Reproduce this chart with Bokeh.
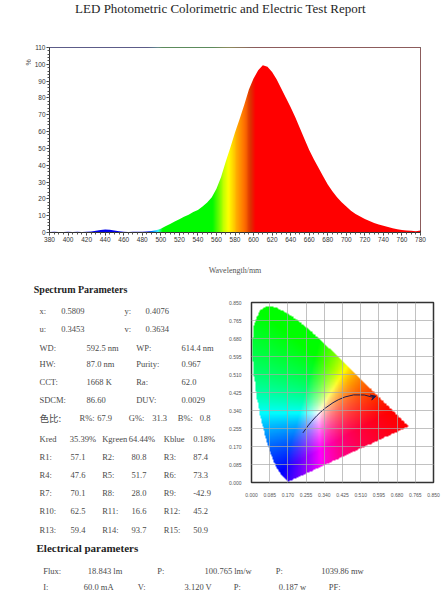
import numpy as np
from bokeh.plotting import figure
from bokeh.layouts import column, row
from bokeh.models import (Range1d, SingleIntervalTicker, FixedTicker, PrintfTickFormatter,
                          Arrow, VeeHead)
from bokeh.core.properties import value
from bokeh.embed import file_html
from bokeh.resources import INLINE

# ---------------- data ----------------
title_text = "LED Photometric Colorimetric and Electric Test Report"
x_label = "Wavelength/mm"
y_label = "%"

wavelength = list(range(380, 781, 5))
intensity = [
    0.3, 0.5, 0.3, 0.3, 0.4, 0.3, 0.5, 0.3, 0.4, 0.6,        # 380-425
    1.0, 1.5, 1.8, 1.6, 1.2, 0.8, 0.4, 0.3, 0.4, 0.4,        # 430-475
    0.5, 0.6, 0.9, 1.3, 2.2, 3.7, 5.0, 6.6, 7.9, 9.4,        # 480-525
    10.6, 12.2, 13.4, 15.5, 17.8, 21.0, 26.0, 33.0, 42.0, 50.5,  # 530-575
    59.5, 67.5, 76.0, 85.0, 91.5, 96.5, 99.5, 98.5, 95.5, 91.0,  # 580-625
    85.5, 80.0, 74.5, 68.5, 62.0, 55.5, 49.0, 43.5, 38.5, 33.5,  # 630-675
    28.5, 24.5, 21.0, 18.0, 15.5, 13.0, 11.0, 9.5, 8.0, 6.8,     # 680-725
    5.6, 4.8, 4.0, 3.2, 2.5, 2.0, 1.5, 1.2, 1.0, 0.8,            # 730-775
    1.2,                                                          # 780
]

# CIE 1931 spectral locus (380-700 nm, 5 nm)
locus_x = [0.1741, 0.1740, 0.1738, 0.1736, 0.1733, 0.1730, 0.1726, 0.1721, 0.1714, 0.1703,
           0.1689, 0.1669, 0.1644, 0.1611, 0.1566, 0.1510, 0.1440, 0.1355, 0.1241, 0.1096,
           0.0913, 0.0687, 0.0454, 0.0235, 0.0082, 0.0039, 0.0139, 0.0389, 0.0743, 0.1142,
           0.1547, 0.1929, 0.2296, 0.2658, 0.3016, 0.3373, 0.3731, 0.4087, 0.4441, 0.4788,
           0.5125, 0.5448, 0.5752, 0.6029, 0.6270, 0.6482, 0.6658, 0.6801, 0.6915, 0.7006,
           0.7079, 0.7140, 0.7190, 0.7230, 0.7260, 0.7283, 0.7300, 0.7311, 0.7320, 0.7327,
           0.7334, 0.7340, 0.7344, 0.7346, 0.7347]
locus_y = [0.0050, 0.0050, 0.0049, 0.0049, 0.0048, 0.0048, 0.0048, 0.0048, 0.0051, 0.0058,
           0.0069, 0.0086, 0.0109, 0.0138, 0.0177, 0.0227, 0.0297, 0.0399, 0.0578, 0.0868,
           0.1327, 0.2007, 0.2950, 0.4127, 0.5384, 0.6548, 0.7502, 0.8120, 0.8338, 0.8262,
           0.8059, 0.7816, 0.7543, 0.7243, 0.6923, 0.6589, 0.6245, 0.5896, 0.5547, 0.5202,
           0.4866, 0.4544, 0.4242, 0.3965, 0.3725, 0.3514, 0.3340, 0.3197, 0.3083, 0.2993,
           0.2920, 0.2859, 0.2809, 0.2770, 0.2740, 0.2717, 0.2700, 0.2689, 0.2680, 0.2673,
           0.2666, 0.2660, 0.2656, 0.2654, 0.2653]

# Planckian locus (inf K ... 1667 K)
planck_x = [0.2399, 0.2565, 0.2637, 0.2807, 0.2952, 0.3064, 0.3221, 0.3451, 0.3805,
            0.4053, 0.4369, 0.4770, 0.5267, 0.5646]
planck_y = [0.2342, 0.2577, 0.2674, 0.2884, 0.3048, 0.3166, 0.3318, 0.3516, 0.3768,
            0.3907, 0.4041, 0.4137, 0.4133, 0.4029]

cie_ticks = [0.000, 0.085, 0.170, 0.255, 0.340, 0.425, 0.510, 0.595, 0.680, 0.765, 0.850]

chroma_names = ["x:", "y:", "u:", "v:"]
chroma_vals = [0.5809, 0.4076, 0.3453, 0.3634]

param_names = ["WD:", "WP:", "HW:", "Purity:", "CCT:", "Ra:", "SDCM:", "DUV:"]
param_vals = ["592.5 nm", "614.4 nm", "87.0 nm", "0.967", "1668 K", "62.0", "86.60", "0.0029"]

ratio_title = "色比:"
ratio_names = ["R%:", "G%:", "B%:"]
ratio_vals = [67.9, 31.3, 0.8]

k_names = ["Kred", "Kgreen", "Kblue"]
k_vals = ["35.39%", "64.44%", "0.18%"]

ri_names = ["R%d:" % i for i in range(1, 16)]
ri_vals = [57.1, 80.8, 87.4, 47.6, 51.7, 73.3, 70.1, 28.0, -42.9, 62.5, 16.6, 45.2, 59.4, 93.7, 50.9]

elec_names_1 = ["Flux:", "P:", "P:"]
elec_vals_1 = ["18.843 lm", "100.765 lm/w", "1039.86 mw"]
elec_names_2 = ["I:", "V:", "P:", "PF:"]
elec_vals_2 = ["60.0 mA", "3.120 V", "0.187 w"]

# ---------------- styles ----------------
SERIF = "Liberation Serif"
SANS = "Liberation Sans"
CJK = "Noto Sans CJK SC"
BODY = "#4a4a4a"
HEAD = "#1e1e1e"

spec_stops = [(380, (0, 0, 235)), (486, (0, 0, 235)), (492, (0, 150, 255)), (497, (70, 255, 255)),
              (502, (0, 250, 0)), (556, (0, 250, 0)), (566, (170, 255, 0)), (573, (255, 255, 0)),
              (581, (255, 180, 0)), (590, (255, 110, 0)), (597, (220, 50, 0)), (602, (255, 0, 0)),
              (780, (255, 0, 0))]


def strip(w, h, y0, y1, top=0, bottom=0):
    """Text canvas whose data coordinates equal page pixels."""
    f = figure(width=w, height=h, x_range=Range1d(0, w), y_range=Range1d(y1, y0),
               x_axis_type=None, y_axis_type=None, output_backend="svg",
               toolbar_location=None, min_border=0)
    f.min_border_top = top
    f.min_border_bottom = bottom
    f.outline_line_color = None
    return f


def txt(f, xs, ys, texts, size=8.5, style="normal", color=BODY, font=SERIF, align="left", angle=0):
    f.text(x=xs, y=ys, text=texts, text_font=value(font), text_font_size="%spx" % size,
           text_font_style=style, text_color=color, text_align=align, text_baseline="middle",
           angle=angle)


# ---------------- title ----------------
tstrip = strip(444, 20, 0, 20)
txt(tstrip, [220], [8], [title_text], size=13, style="normal", color=HEAD, align="center")

# ---------------- spectrum ----------------
spec = figure(width=413, height=260, x_range=Range1d(wavelength[0], wavelength[-1]),
              y_range=Range1d(0, 110), output_backend="svg", toolbar_location=None,
              min_border_left=18, min_border_right=24, min_border_top=27, min_border_bottom=48)
spec.grid.visible = False
spec.outline_line_color = "#333333"
spec.outline_line_width = 1

nm = np.arange(wavelength[0], wavelength[-1]) + 0.5
sx = [s[0] for s in spec_stops]
chan = [np.interp(nm, sx, [s[1][k] for s in spec_stops]) for k in range(3)]
simg = np.zeros((2, len(nm)), dtype=np.uint32)
sv = simg.view(dtype=np.uint8).reshape((2, len(nm), 4))
for k in range(3):
    sv[:, :, k] = chan[k].astype(np.uint8)
sv[:, :, 3] = 255
spec.image_rgba(image=[simg], x=wavelength[0], y=0, dw=wavelength[-1] - wavelength[0], dh=110)
spec.varea(x=wavelength, y1=intensity, y2=[110] * len(wavelength), fill_color="white")

spec.xaxis.ticker = SingleIntervalTicker(interval=20, num_minor_ticks=4)
spec.yaxis.ticker = SingleIntervalTicker(interval=10, num_minor_ticks=5)
for ax in spec.axis:
    ax.major_tick_out = 3
    ax.major_tick_in = 0
    ax.minor_tick_out = 2
    ax.minor_tick_in = 0
    ax.axis_line_color = "#333333"
    ax.major_tick_line_color = "#333333"
    ax.minor_tick_line_color = "#555555"
    ax.major_label_text_font = SANS
    ax.major_label_text_font_size = "6.5px"
    ax.major_label_text_color = "#333333"
    ax.major_label_standoff = 1
spec.xaxis.axis_label = x_label
spec.xaxis.axis_label_text_font = SERIF
spec.xaxis.axis_label_text_font_size = "8px"
spec.xaxis.axis_label_text_font_style = "normal"
spec.xaxis.axis_label_text_color = "#555555"
spec.xaxis.axis_label_standoff = 21

pct = strip(31, 260, 47, 232, top=27, bottom=48)
txt(pct, [27.5], [62], [y_label], size=7, color="#555555", font=SANS, align="center",
    angle=np.pi / 2)

# ---------------- CIE diagram ----------------
cie = figure(width=224, height=260, x_range=Range1d(cie_ticks[0], cie_ticks[-1]),
             y_range=Range1d(cie_ticks[0], cie_ticks[-1]), output_backend="svg",
             toolbar_location=None, min_border_left=31, min_border_right=11,
             min_border_top=22, min_border_bottom=58)
cie.outline_line_color = "#333333"
cie.outline_line_width = 1.5
tk = FixedTicker(ticks=cie_ticks, minor_ticks=[])
for ax in cie.axis:
    ax.ticker = tk
    ax.formatter = PrintfTickFormatter(format="%.3f")
    ax.major_tick_out = 0
    ax.major_tick_in = 0
    ax.minor_tick_out = 0
    ax.minor_tick_in = 0
    ax.axis_line_color = None
    ax.major_label_text_font = SANS
    ax.major_label_text_font_size = "5px"
    ax.major_label_text_color = "#555555"
    ax.major_label_standoff = 10
cie.xaxis.major_label_text_align = "left"
for g in (cie.xgrid[0], cie.ygrid[0]):
    g.ticker = tk
    g.grid_line_color = "#a8a8a8"
    g.grid_line_alpha = 0.7
    g.level = "overlay"

N = 300
span = cie_ticks[-1] - cie_ticks[0]
gx = (np.arange(N) + 0.5) / N * span
GX, GY = np.meshgrid(gx, gx)
vx = np.array(locus_x)
vy = np.array(locus_y)
inside = np.zeros(GX.shape, dtype=bool)
j = len(vx) - 1
for i in range(len(vx)):
    cond = ((vy[i] > GY) != (vy[j] > GY)) & \
           (GX < (vx[j] - vx[i]) * (GY - vy[i]) / (vy[j] - vy[i] + 1e-12) + vx[i])
    inside ^= cond
    j = i
yy = np.maximum(GY, 1e-4)
Xc = GX / yy
Zc = (1 - GX - GY) / yy
r = 3.2406 * Xc - 1.5372 - 0.4986 * Zc
g_ = -0.9689 * Xc + 1.8758 + 0.0415 * Zc
b = 0.0557 * Xc - 0.2040 + 1.0570 * Zc
rgb = np.clip(np.stack([r, g_, b], -1), 0, None)
rgb = rgb / (rgb.max(-1, keepdims=True) + 1e-9)
rgb = rgb ** 0.9
cimg = np.zeros((N, N), dtype=np.uint32)
cv = cimg.view(dtype=np.uint8).reshape((N, N, 4))
cv[:, :, :3] = (rgb * 255).astype(np.uint8)
cv[:, :, 3] = np.where(inside, 255, 0).astype(np.uint8)
cie.image_rgba(image=[cimg], x=cie_ticks[0], y=cie_ticks[0], dw=span, dh=span)

cie.line(planck_x, planck_y, line_color="#1c1c50", line_width=1)
cie.add_layout(Arrow(end=VeeHead(size=5, line_color="#1c1c50", fill_color="#1c1c50", line_width=1),
                     x_start=planck_x[-1], y_start=planck_y[-1],
                     x_end=chroma_vals[0], y_end=chroma_vals[1],
                     line_color="#1c1c50", line_width=1))

# ---------------- spectrum parameter text (page coordinates) ----------------
tf = strip(220, 260, 280, 540)
txt(tf, [33.3], [289], ["Spectrum Parameters"], size=10, style="bold", color=HEAD)

txt(tf, [39, 124, 39, 124], [310, 310, 328.3, 328.3], chroma_names)
txt(tf, [60.7, 145, 60.7, 145], [310, 310, 328.3, 328.3], ["%.4f" % v for v in chroma_vals])

py = [347.3, 347.3, 363.3, 363.3, 381, 381, 399, 399]
txt(tf, [39, 135.7] * 4, py, param_names)
txt(tf, [86, 181] * 4, py, param_vals)

txt(tf, [39], [417.7], [ratio_title], size=9.5, font=CJK)
txt(tf, [79, 128.3, 177.3], [417.7] * 3, ratio_names)
txt(tf, [96.7, 151.7, 199.3], [417.7] * 3, ["%.1f" % v for v in ratio_vals])

txt(tf, [39, 101.7, 163.3], [438.3] * 3, k_names)
txt(tf, [69.3, 128.3, 192.7], [438.3] * 3, k_vals)

ry = [456, 474.3, 492.7, 510.7, 529.3]
rys = [y for y in ry for _ in range(3)]
txt(tf, [39, 101.7, 163.3] * 5, rys, ri_names)
txt(tf, [70, 131, 192.7] * 5, rys, ["%.1f" % v for v in ri_vals])

# ---------------- electrical text (page coordinates) ----------------
ef = strip(444, 60, 540, 600)
txt(ef, [36], [547.3], ["Electrical parameters"], size=11, style="bold", color=HEAD)
txt(ef, [42.7, 156.7, 275.3], [570] * 3, elec_names_1)
txt(ef, [87.3, 204, 320.7], [570] * 3, elec_vals_1)
txt(ef, [42.7, 137.3, 233.3, 328.3], [586.7] * 4, elec_names_2)
txt(ef, [83.3, 184, 278.3], [586.7] * 3, elec_vals_2)

layout = column(tstrip, row(pct, spec), row(column(tf), column(cie)), row(ef))
open("out.html", "w").write(file_html(layout, INLINE))
